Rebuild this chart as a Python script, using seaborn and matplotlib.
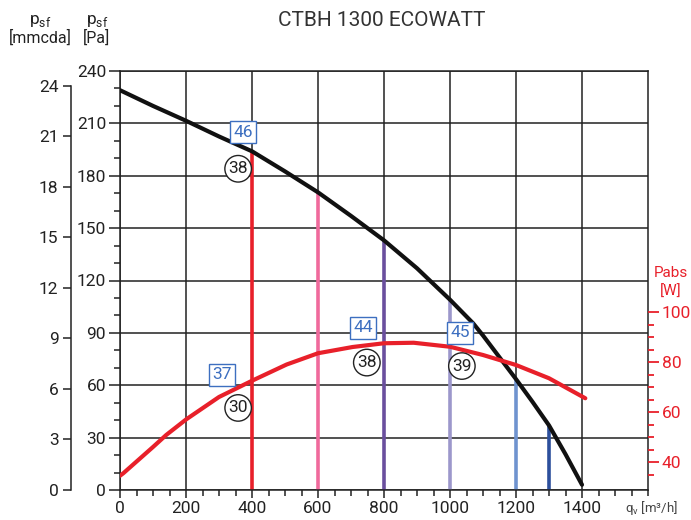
import numpy as np
import pandas as pd
import matplotlib
matplotlib.use('Agg')
import matplotlib.pyplot as plt
from matplotlib.ticker import MultipleLocator, FixedLocator
import seaborn as sns

# fan curve (static pressure, Pa)
qv_fan = [0, 100, 200, 300, 400, 500, 600, 700, 800, 900, 1000, 1070, 1100, 1150, 1200, 1250, 1300, 1350, 1400]
pa_fan = [229, 220, 211.5, 202.5, 194, 182.5, 170.5, 157, 143, 127, 109, 95.5, 88.5, 76, 63.5, 50.5, 37, 20.5, 3]

# absorbed power curve (W)
qv_pow = [0, 10, 100, 140, 200, 300, 400, 505, 600, 705, 800, 890, 1000, 1100, 1200, 1300, 1410]
w_pow = [34.5, 35.5, 46, 50.8, 57, 66, 72.5, 79, 83.5, 86, 87.5, 87.7, 86.1, 82.8, 78.8, 73.5, 65.5]

# speed lines
qv_lines = [400, 600, 800, 1000, 1200, 1300]
pa_lines = [194, 170.5, 143, 109, 63.5, 37]
line_colors = ['#e8202a', '#f06a9c', '#6a4f9e', '#9c97cb', '#6f93cf', '#2c4f9c']

# sound labels: boxed (blue) and circled (black)
box_labels = ['46', '37', '44', '45']
box_x = [373, 309, 736, 1030]
box_y = [205, 66, 93, 90]
circ_labels = ['38', '30', '38', '39']
circ_x = [358, 358, 748, 1036]
circ_y = [184, 47, 73, 71]

RED = '#e8202a'
BLUE = '#3d6fc0'
DARK = '#222222'

sns.set_theme(style='white')
plt.rcParams['font.family'] = ['Roboto', 'DejaVu Sans']
plt.rcParams['mathtext.fontset'] = 'custom'
plt.rcParams['mathtext.rm'] = 'Roboto'
plt.rcParams['lines.solid_joinstyle'] = 'round'

fig = plt.figure(figsize=(6.91, 5.2), dpi=100)
ax = fig.add_axes([120/691, 1-490/520, 528/691, 419/520])

df_fan = pd.DataFrame({'qv': qv_fan, 'pa': pa_fan})
df_pow = pd.DataFrame({'qv': qv_pow, 'w': w_pow})

ax.set_xlim(0, 1600)
ax.set_ylim(0, 240)
ax.set_axisbelow(True)
ax.xaxis.set_major_locator(FixedLocator(range(0, 1401, 200)))
ax.xaxis.set_minor_locator(MultipleLocator(50))
ax.yaxis.set_major_locator(MultipleLocator(30))
ax.yaxis.set_minor_locator(MultipleLocator(10))
ax.grid(True, which='major', color=DARK, linewidth=1.1)
for s in ax.spines.values():
    s.set_color(DARK)
    s.set_linewidth(1.1)
ax.tick_params(axis='both', which='major', direction='out', length=6, width=1.1,
               color=DARK, labelsize=12.5, labelcolor=DARK, pad=2)
ax.tick_params(axis='both', which='minor', direction='out', length=4, width=1.1, color=DARK)
ax.tick_params(axis='y', which='major', length=8)
ax.tick_params(left=True, bottom=True, right=False, top=False)
ax.tick_params(which='minor', left=True, bottom=True, right=False, top=False)

ax.vlines(qv_lines, 0, pa_lines, colors=line_colors, linewidth=2.6, zorder=2)
sns.lineplot(data=df_fan, x='qv', y='pa', ax=ax, color='#111111', linewidth=3, zorder=3)
ax.set_xlabel('')
ax.set_ylabel('')

# mmcda axis
ax2 = ax.twinx()
ax2.set_ylim(0, 24.89)
ax2.yaxis.tick_left()
ax2.spines['left'].set_visible(True)
ax2.spines['left'].set_position(('axes', -49/528))
ax2.spines['left'].set_bounds(0, 24)
ax2.spines['left'].set_color(DARK)
ax2.spines['left'].set_linewidth(1.1)
for k in ['right', 'top', 'bottom']:
    ax2.spines[k].set_visible(False)
ax2.yaxis.set_major_locator(FixedLocator(range(0, 25, 3)))
ax2.tick_params(axis='y', which='major', direction='out', length=6, width=1.1,
                color=DARK, labelsize=12.5, labelcolor=DARK, pad=3, left=True, right=False)
ax2.grid(False)

# power axis
ax3 = ax.twinx()
ax3.set_ylim(28.8, 196.4)
for k in ['left', 'right', 'top', 'bottom']:
    ax3.spines[k].set_visible(False)
ax3.yaxis.set_major_locator(FixedLocator([40, 60, 80, 100]))
ax3.yaxis.set_minor_locator(FixedLocator(range(35, 101, 5)))
ax3.tick_params(axis='y', which='major', direction='out', length=8, width=1.3,
                color=RED, labelsize=12.5, labelcolor=RED, pad=2, right=True, left=False)
ax3.tick_params(axis='y', which='minor', direction='out', length=4, width=1.3,
                color=RED, right=True, left=False)
ax3.grid(False)
sns.lineplot(data=df_pow, x='qv', y='w', ax=ax3, color=RED, linewidth=3, zorder=2)
ax3.set_xlabel('')
ax3.set_ylabel('')

for t, x, y in zip(box_labels, box_x, box_y):
    ax3.text(x, y, t, transform=ax.transData, ha='center', va='center', fontsize=12.5,
             color=BLUE, zorder=5,
             bbox=dict(boxstyle='square,pad=0.2', fc='white', ec=BLUE, lw=1))
for t, x, y in zip(circ_labels, circ_x, circ_y):
    ax3.text(x, y, t, transform=ax.transData, ha='center', va='center', fontsize=12.5,
             color=DARK, zorder=5,
             bbox=dict(boxstyle='circle,pad=0.2', fc='white', ec=DARK, lw=1))

fig.text(382/691, 1-20/520, 'CTBH 1300 ECOWATT', ha='center', va='center',
         fontsize=15, color='#333333')
fig.text(40/691, 1-21/520, 'p$_{\\rm sf}$', ha='center', va='center', fontsize=12.5, color=DARK)
fig.text(40/691, 1-38/520, '[mmcda]', ha='center', va='center', fontsize=11.5, color=DARK)
fig.text(97/691, 1-21/520, 'p$_{\\rm sf}$', ha='center', va='center', fontsize=12.5, color=DARK)
fig.text(97/691, 1-38/520, '[Pa]', ha='center', va='center', fontsize=11.5, color=DARK)
fig.text(671/691, 1-273/520, 'Pabs', ha='center', va='center', fontsize=11, color=RED)
fig.text(671/691, 1-292/520, '[W]', ha='center', va='center', fontsize=11, color=RED)
fig.text(651/691, 1-508/520, 'q$_{\\rm v}$ [m³/h]', ha='center', va='center',
         fontsize=9.5, color='#444444')

fig.savefig('out.png', dpi=100)
